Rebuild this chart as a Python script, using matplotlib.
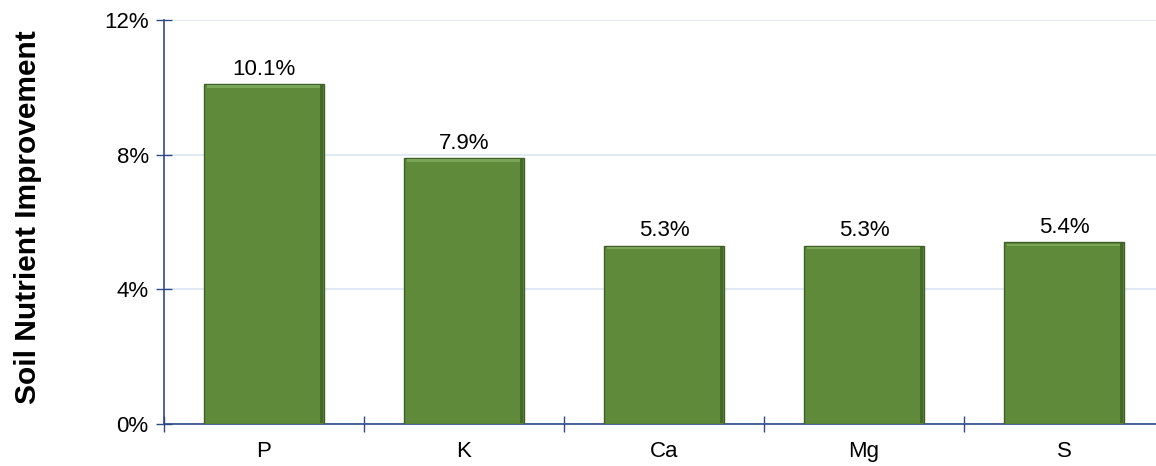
import numpy as np
import matplotlib.pyplot as plt
from matplotlib.ticker import FuncFormatter

nutrients = ['P', 'K', 'Ca', 'Mg', 'S']
improvement = [10.1, 7.9, 5.3, 5.3, 5.4]
yticks = [0, 4, 8, 12]

plt.rcParams['font.family'] = ['Liberation Sans', 'DejaVu Sans']

fig = plt.figure(figsize=(11.56, 4.66), dpi=100)
ax = fig.add_axes([164/1156, 42/466, 1000/1156, 404/466])

x = np.arange(len(nutrients))
green = '#5e8a3a'
ax.bar(x, improvement, width=0.6, color=green, edgecolor='#405f2a', linewidth=1.0, zorder=3)
# bevel: light top strip and dark right strip
vals = np.array(improvement)
ax.bar(x, 0.07, bottom=vals - 0.11, width=0.57, color='#7ba657', linewidth=0, zorder=4)
ax.bar(x + 0.288, vals - 0.05, bottom=0.02, width=0.015, color='#46682c', linewidth=0, zorder=4)

for xi, v in zip(x, improvement):
    ax.annotate(f'{v:.1f}%', (xi, v), xytext=(0, 3), textcoords='offset points',
                ha='center', va='bottom', fontsize=16, color='black')

ax.set_xlim(-0.5, len(nutrients) - 0.5)
ax.set_ylim(0, 12)
ax.set_yticks(yticks)
ax.yaxis.set_major_formatter(FuncFormatter(lambda v, p: f'{v:.0f}%'))
ax.set_xticks(x)
ax.set_xticklabels(nutrients)
ax.set_xticks(np.arange(len(nutrients) + 1) - 0.5, minor=True)

spine_c = '#2e4a86'
ax.tick_params(axis='x', which='major', length=0, labelsize=16, pad=12)
ax.tick_params(axis='x', which='minor', direction='inout', length=12, color=spine_c, width=1)
ax.tick_params(axis='y', direction='inout', length=12, color=spine_c, width=1, labelsize=16, pad=5)

for s in ['top', 'right']:
    ax.spines[s].set_visible(False)
for s in ['left', 'bottom']:
    ax.spines[s].set_color(spine_c)
    ax.spines[s].set_linewidth(1.2)

ax.grid(axis='y', color='#dce6f2', linewidth=1.2, zorder=0)
ax.set_axisbelow(True)

fig.text(28/1156, 249/466, 'Soil Nutrient Improvement', rotation=90, ha='center', va='center',
         fontsize=21.5, fontweight='bold')

fig.savefig('out.png', dpi=100)
